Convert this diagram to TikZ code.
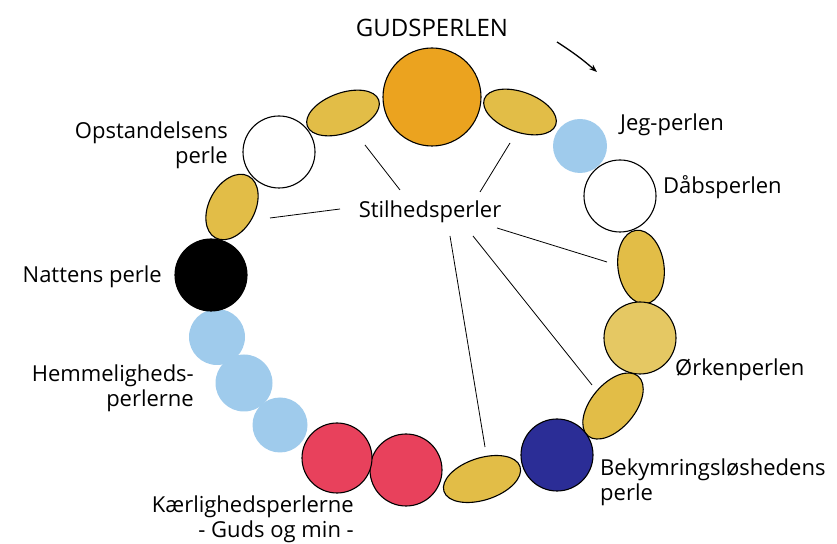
\documentclass[tikz,border=0pt]{standalone}
\usepackage{fontspec}
\setmainfont{Open Sans}
\usetikzlibrary{shapes.geometric,arrows.meta}

\definecolor{gudorange}{HTML}{EBA31F}
\definecolor{stilgul}{HTML}{E2BD47}
\definecolor{orkengul}{HTML}{E5C863}
\definecolor{lyseblaa}{HTML}{9FCBEC}
\definecolor{kaerrod}{HTML}{E8415C}
\definecolor{moerkblaa}{HTML}{2B2D96}

\tikzset{
  perle/.style={circle,draw=black,line width=1.1pt,inner sep=0pt},
  blaaperle/.style={circle,fill=lyseblaa,inner sep=0pt},
  stilperle/.style={ellipse,draw=black,line width=1.1pt,fill=stilgul,inner sep=0pt},
  etiket/.style={font=\fontsize{22}{25}\selectfont,inner sep=0pt}
}

\begin{document}
\begin{tikzpicture}[x=1pt,y=1pt]
\useasboundingbox (0,0) rectangle (837,543);

% perlerne
\node[perle,fill=gudorange,minimum size=98pt] (gud) at (432,446) {};
\node[stilperle,minimum width=76pt,minimum height=40pt,rotate=20] (s1) at (343,430) {};
\node[stilperle,minimum width=76pt,minimum height=40pt,rotate=-20] (s2) at (520,431) {};
\node[blaaperle,minimum size=54pt] (jeg) at (580,397) {};
\node[perle,fill=white,minimum size=72pt] (daab) at (620,347) {};
\node[stilperle,minimum width=74pt,minimum height=46pt,rotate=98] (s3) at (641,276) {};
\node[perle,fill=orkengul,minimum size=72pt] (orken) at (640,205) {};
\node[stilperle,minimum width=78pt,minimum height=44pt,rotate=50] (s4) at (613,137) {};
\node[perle,fill=moerkblaa,minimum size=72pt] (bekym) at (557,88) {};
\node[stilperle,minimum width=80pt,minimum height=42pt,rotate=18] (s5) at (482,64) {};
\node[perle,fill=kaerrod,minimum size=72pt] (kaer2) at (406,73) {};
\node[perle,fill=kaerrod,minimum size=70pt] (kaer1) at (337,85) {};
\node[blaaperle,minimum size=55pt] (hem3) at (280,118) {};
\node[blaaperle,minimum size=57pt] (hem2) at (244,160) {};
\node[blaaperle,minimum size=56pt] (hem1) at (217,206) {};
\node[perle,fill=black,minimum size=72pt] (nat) at (211,268) {};
\node[stilperle,minimum width=70pt,minimum height=46pt,rotate=62] (s6) at (232,336) {};
\node[perle,fill=white,minimum size=72pt] (opst) at (279,391) {};

% tekster
\node[etiket,font=\fontsize{24}{28}\selectfont] (tgud) at (432,515) {GUDSPERLEN};
\node[etiket,anchor=west] (tjeg) at (620,418) {Jeg-perlen};
\node[etiket,anchor=west] (tdaab) at (663,356) {Dåbsperlen};
\node[etiket,anchor=west] (torken) at (675,173) {Ørkenperlen};
\node[etiket,anchor=west,align=left] (tbekym) at (600,61) {Bekymringsløshedens\\perle};
\node[etiket,anchor=east,align=right] (tkaer) at (354,24) {Kærlighedsperlerne\\- Guds og min -};
\node[etiket,anchor=east,align=right] (them) at (194,155) {Hemmeligheds-\\perlerne};
\node[etiket,anchor=east] (tnat) at (162,266) {Nattens perle};
\node[etiket,anchor=east,align=right] (topst) at (228,398) {Opstandelsens\\perle};
\node[etiket] (stil) at (430,331) {Stilhedsperler};

% streger til stilhedsperlerne
\coordinate (a1) at (365,398); \coordinate (b1) at (400,353);
\coordinate (a2) at (510,400); \coordinate (b2) at (480,351);
\coordinate (a3) at (270,325); \coordinate (b3) at (340,334);
\coordinate (a4) at (607,281); \coordinate (b4) at (497,315);
\coordinate (a5) at (592,158); \coordinate (b5) at (473,307);
\coordinate (a6) at (485,96);  \coordinate (b6) at (450,307);
\foreach \i in {1,...,6}
  \draw[line width=0.8pt] (a\i) -- (b\i);

% retning
\coordinate (pil1) at (557,501);
\coordinate (pil2) at (597,471);
\draw[line width=1.3pt,-{Stealth[length=8pt]}] (pil1) to[bend left=4] (pil2);

\end{tikzpicture}
\end{document}
